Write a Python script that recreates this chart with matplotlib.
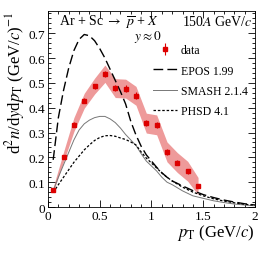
import matplotlib
matplotlib.use("Agg")
import matplotlib.pyplot as plt
from matplotlib.ticker import MultipleLocator
from matplotlib.lines import Line2D
import numpy as np

plt.rcParams['font.family'] = ['Liberation Serif', 'DejaVu Serif']
plt.rcParams['mathtext.fontset'] = 'stix'

# Data
pt_data = [0.05, 0.15, 0.25, 0.35, 0.45, 0.55, 0.65, 0.75, 0.85, 0.95, 1.05, 1.15, 1.25, 1.35, 1.45]
y_data = [0.070, 0.202, 0.332, 0.428, 0.487, 0.537, 0.479, 0.477, 0.448, 0.338, 0.331, 0.222, 0.179, 0.144, 0.084]
stat_err = [0.006, 0.008, 0.009, 0.010, 0.010, 0.012, 0.013, 0.014, 0.014, 0.013, 0.013, 0.012, 0.011, 0.010, 0.009]
sys_err = [0.010, 0.020, 0.028, 0.030, 0.032, 0.035, 0.038, 0.038, 0.038, 0.040, 0.040, 0.040, 0.040, 0.040, 0.035]

# Models
pt_epos = [0.05, 0.1, 0.15, 0.2, 0.25, 0.3, 0.35, 0.4, 0.45, 0.5, 0.55, 0.6, 0.65, 0.7, 0.75, 0.8, 0.85,
           0.9, 0.95, 1.0, 1.05, 1.1, 1.15, 1.2, 1.3, 1.4, 1.5, 1.6, 1.7, 1.8, 1.9, 2.0]
y_epos = [0.19, 0.36, 0.47, 0.56, 0.63, 0.675, 0.695, 0.69, 0.67, 0.638, 0.60, 0.555, 0.51, 0.465, 0.415, 0.345, 0.29,
          0.245, 0.21, 0.185, 0.16, 0.138, 0.12, 0.105, 0.085, 0.066, 0.05, 0.038, 0.028, 0.02, 0.013, 0.008]

pt_smash = [0.05, 0.1, 0.15, 0.2, 0.25, 0.3, 0.35, 0.4, 0.45, 0.5, 0.55, 0.6, 0.65, 0.7, 0.75, 0.8, 0.85,
            0.9, 0.95, 1.0, 1.05, 1.1, 1.15, 1.2, 1.3, 1.4, 1.5, 1.6, 1.7, 1.8, 1.9, 2.0]
y_smash = [0.065, 0.12, 0.17, 0.22, 0.27, 0.31, 0.335, 0.35, 0.36, 0.365, 0.365, 0.355, 0.34, 0.318, 0.292, 0.27, 0.248,
           0.215, 0.185, 0.165, 0.145, 0.12, 0.10, 0.09, 0.065, 0.045, 0.035, 0.025, 0.018, 0.012, 0.008, 0.005]

pt_phsd = [0.05, 0.1, 0.15, 0.2, 0.25, 0.3, 0.35, 0.4, 0.45, 0.5, 0.55, 0.6, 0.65, 0.7, 0.75, 0.8, 0.85,
           0.9, 0.95, 1.0, 1.05, 1.1, 1.15, 1.2, 1.3, 1.4, 1.5, 1.6, 1.7, 1.8, 1.9, 2.0]
y_phsd = [0.058, 0.09, 0.12, 0.15, 0.18, 0.205, 0.23, 0.25, 0.268, 0.28, 0.287, 0.288, 0.285, 0.278, 0.272, 0.262, 0.25,
          0.222, 0.197, 0.177, 0.157, 0.137, 0.12, 0.105, 0.08, 0.06, 0.045, 0.033, 0.024, 0.017, 0.011, 0.007]

x_ticks = [0, 0.5, 1, 1.5, 2]
x_ticklabels = ['0', '0.5', '1', '1.5', '2']
y_ticks = [0, 0.1, 0.2, 0.3, 0.4, 0.5, 0.6, 0.7]
y_ticklabels = ['0', '0.1', '0.2', '0.3', '0.4', '0.5', '0.6', '0.7']

fig = plt.figure(figsize=(2.66, 2.55), dpi=100)
ax = fig.add_axes([0.1805, 0.1843, 0.778, 0.769])

pd_ = np.array(pt_data); yd = np.array(y_data); se = np.array(sys_err)
ax.fill_between(pd_, yd - se, yd + se, color='#ee9a9a', lw=0, zorder=1)

ax.plot(pt_epos, y_epos, color='black', lw=1.0, dashes=(7, 3), zorder=2)
ax.plot(pt_smash, y_smash, color='#777777', lw=0.7, zorder=2)
ax.plot(pt_phsd, y_phsd, color='black', lw=0.9, dashes=(2, 1.5), zorder=2)
ax.errorbar(pt_data, y_data, yerr=stat_err, fmt='s', color='#dd0000', ms=3.2, elinewidth=0.8, capsize=0, zorder=3)

ax.set_xlim(0, 2)
ax.set_ylim(0, 0.79)
ax.xaxis.set_minor_locator(MultipleLocator(0.1))
ax.yaxis.set_minor_locator(MultipleLocator(0.02))
ax.set_yticks(y_ticks)
ax.set_yticklabels(y_ticklabels)
ax.set_xticks(x_ticks)
ax.set_xticklabels(x_ticklabels)
ax.tick_params(which='both', direction='in', top=True, right=True, labelsize=9.5, width=0.6, pad=2)
ax.tick_params(which='major', length=5)
ax.tick_params(which='minor', length=2.5)
for s in ax.spines.values():
    s.set_linewidth(0.6)

ax.set_xlabel(r'$p_{\mathrm{T}}$ (GeV/$c$)', fontsize=12, loc='right', labelpad=0)
ax.set_ylabel(r'd$^2n$/d$y$d$p_{\mathrm{T}}$ (GeV/$c$)$^{-1}$', fontsize=12, loc='top', labelpad=1)

ax.text(0.055, 0.95, r'Ar + Sc $\rightarrow$ $\overline{p}$ + $X$', transform=ax.transAxes, fontsize=10, va='center', ha='left')
ax.text(0.48, 0.87, r'$y \approx 0$', transform=ax.transAxes, fontsize=9.5, va='center', ha='center')
ax.text(0.99, 0.95, r'150$A$ GeV/$c$', transform=ax.transAxes, fontsize=10, va='center', ha='right')

h_data = ax.errorbar([], [], yerr=[], fmt='s', color='#dd0000', ms=3.2, elinewidth=0.8)
h_epos = Line2D([], [], color='black', lw=1.0, dashes=(7, 3))
h_smash = Line2D([], [], color='#777777', lw=0.7)
h_phsd = Line2D([], [], color='black', lw=0.9, dashes=(2, 1.5))
ax.legend([h_data, h_epos, h_smash, h_phsd], ['data', 'EPOS 1.99', 'SMASH 2.1.4', 'PHSD 4.1'],
          loc='upper left', bbox_to_anchor=(0.505, 0.83), frameon=False, fontsize=8.5,
          handlelength=2.1, handletextpad=0.3, labelspacing=0.7, borderaxespad=0, borderpad=0)

fig.savefig('out.png', dpi=100)
